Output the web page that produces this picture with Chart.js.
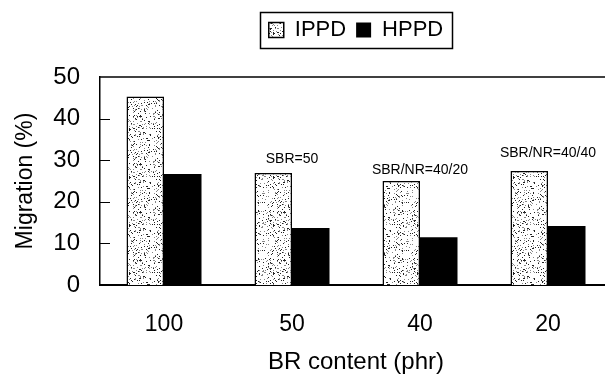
<!DOCTYPE html>
<html>
<head>
<meta charset="utf-8">
<script src="https://cdn.jsdelivr.net/npm/chart.js@4.4.1/dist/chart.umd.min.js"></script>
<style>
  html, body { margin: 0; padding: 0; background: #fff; overflow: hidden; }
  #wrap { width: 615px; height: 377px; }
</style>
</head>
<body>
<div id="wrap"><canvas id="grafico"></canvas></div>
<script>
// dados
const categorias = ['100', '50', '40', '20'];
const valoresIPPD = [45.3, 26.9, 25.0, 27.4];
const valoresHPPD = [26.7, 13.7, 11.5, 14.2];
const notas = ['', 'SBR=50', 'SBR/NR=40/20', 'SBR/NR=40/40'];
const notasY = [null, 30.3, 27.6, 31.7];
const ticksY = [0, 10, 20, 30, 40, 50];

const fonte = 'Liberation Sans, Arial, sans-serif';

// textura pontilhada (semente fixa, só visual)
function criarPontilhado() {
    const c = document.createElement('canvas');
    c.width = 48; c.height = 48;
    const g = c.getContext('2d');
    g.fillStyle = '#fff';
    g.fillRect(0, 0, 48, 48);
    let s = 12345;
    const prox = () => { s = (s * 1103515245 + 12345) % 2147483648; return s / 2147483648; };
    for (let i = 0; i < 360; i++) {
        const x = Math.floor(prox() * 48);
        const y = Math.floor(prox() * 48);
        g.fillStyle = prox() < 0.5 ? '#222' : '#888';
        g.fillRect(x, y, 1, 1);
    }
    return g.createPattern(c, 'repeat');
}

// moldura da legenda, linha superior, marcas internas e notas
const extras = {
    id: 'extras',
    afterDraw(chart) {
        const ctx = chart.ctx;
        const area = chart.chartArea;
        const ys = chart.scales.y;
        const xs = chart.scales.x;
        ctx.save();
        ctx.strokeStyle = '#000';

        // linha do topo
        ctx.lineWidth = 1.5;
        ctx.beginPath();
        ctx.moveTo(area.left, area.top);
        ctx.lineTo(area.right, area.top);
        ctx.stroke();

        // marcas do eixo y para dentro
        ctx.lineWidth = 1;
        ticksY.slice(1, -1).forEach(v => {
            const y = Math.round(ys.getPixelForValue(v)) + 0.5;
            ctx.beginPath();
            ctx.moveTo(area.left, y);
            ctx.lineTo(area.left + 10, y);
            ctx.stroke();
        });

        // caixa da legenda
        const hb = chart.legend.legendHitBoxes;
        if (hb && hb.length) {
            const ult = hb[hb.length - 1];
            const x0 = hb[0].left - 9;
            const x1 = ult.left + ult.width + 9;
            const y0 = hb[0].top - 7;
            const y1 = hb[0].top + hb[0].height + 7;
            ctx.lineWidth = 1.5;
            ctx.strokeRect(Math.round(x0) + 0.5, Math.round(y0) + 0.5, Math.round(x1 - x0), Math.round(y1 - y0));
        }

        // notas acima das barras
        ctx.fillStyle = '#000';
        ctx.font = '14px ' + fonte;
        ctx.textAlign = 'center';
        ctx.textBaseline = 'middle';
        notas.forEach((t, i) => {
            if (!t) return;
            ctx.fillText(t, xs.getPixelForValue(i), ys.getPixelForValue(notasY[i]));
        });
        ctx.restore();
    }
};

const ctx = document.getElementById('grafico').getContext('2d');
const pontilhado = criarPontilhado();

new Chart(ctx, {
    type: 'bar',
    data: {
        labels: categorias,
        datasets: [
            {
                label: 'IPPD',
                data: valoresIPPD,
                backgroundColor: pontilhado,
                borderColor: '#000',
                borderWidth: 1.5,
                borderSkipped: 'bottom'
            },
            {
                label: 'HPPD',
                data: valoresHPPD,
                backgroundColor: '#000',
                borderColor: '#000',
                borderWidth: 0
            }
        ]
    },
    options: {
        responsive: true,
        maintainAspectRatio: false,
        animation: false,
        layout: { padding: { top: 9, left: 8, right: 3, bottom: 0 } },
        datasets: { bar: { categoryPercentage: 0.586, barPercentage: 1.0 } },
        plugins: {
            legend: {
                position: 'top',
                fullSize: false,
                labels: {
                    color: '#000',
                    font: { family: fonte, size: 22 },
                    boxWidth: 15,
                    boxHeight: 15,
                    padding: 10
                }
            },
            // espaçador entre a legenda e a área do gráfico
            title: {
                display: true,
                text: '',
                weight: 500,
                fullSize: false,
                font: { size: 10 },
                padding: { top: 0, bottom: 14 }
            },
            tooltip: { enabled: false }
        },
        scales: {
            x: {
                grid: { display: false, drawTicks: false },
                border: { display: true, color: '#000', width: 2 },
                ticks: { color: '#000', padding: 26, font: { family: fonte, size: 23 } },
                title: {
                    display: true,
                    text: 'BR content (phr)',
                    color: '#000',
                    font: { family: fonte, size: 24 },
                    padding: { top: 9, bottom: 0 }
                },
                afterFit(scale) { scale.height = 92; }
            },
            y: {
                min: 0,
                max: 50,
                grid: { display: false, drawTicks: false },
                border: { display: true, color: '#000', width: 1.5 },
                afterBuildTicks(scale) {
                    scale.ticks = ticksY.map(v => ({ value: v }));
                },
                ticks: { color: '#000', padding: 20, font: { family: fonte, size: 24 } },
                title: {
                    display: true,
                    text: 'Migration (%)',
                    color: '#000',
                    font: { family: fonte, size: 23 },
                    padding: { top: 4, bottom: 14 }
                },
                afterFit(scale) { scale.width = 92; }
            }
        }
    },
    plugins: [extras]
});
</script>
</body>
</html>
